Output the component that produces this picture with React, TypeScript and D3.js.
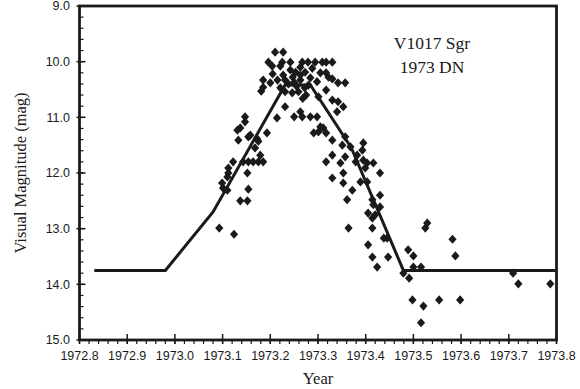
import React, { useRef, useEffect } from 'react'
import * as d3 from 'd3'

// visual estimates, [year, magnitude]
const observations: [number, number][] = [
  [1973.093, 12.99], [1973.124, 13.10], [1973.137, 12.50], [1973.152, 12.50], [1973.154, 12.29],
  [1973.101, 12.27], [1973.110, 12.31], [1973.099, 12.18], [1973.112, 12.00], [1973.112, 11.91],
  [1973.110, 12.07], [1973.122, 11.80], [1973.143, 11.80], [1973.154, 11.80], [1973.164, 11.80],
  [1973.175, 11.80], [1973.185, 11.80], [1973.152, 12.00], [1973.179, 11.68], [1973.168, 11.55],
  [1973.133, 11.41], [1973.131, 11.23], [1973.147, 10.99], [1973.147, 11.08], [1973.158, 11.32],
  [1973.175, 11.43], [1973.193, 11.28], [1973.137, 11.19], [1973.154, 11.35], [1973.172, 11.38],
  [1973.185, 10.33], [1973.200, 10.38], [1973.185, 10.46], [1973.181, 10.53], [1973.196, 10.01],
  [1973.204, 10.08], [1973.210, 9.83], [1973.227, 9.83], [1973.225, 10.01], [1973.242, 10.01],
  [1973.267, 10.01], [1973.279, 10.01], [1973.294, 10.01], [1973.309, 10.01], [1973.317, 10.01],
  [1973.330, 10.01], [1973.221, 10.08], [1973.263, 10.10], [1973.253, 10.19], [1973.273, 10.19],
  [1973.247, 10.28], [1973.263, 10.33], [1973.284, 10.29], [1973.238, 10.40], [1973.255, 10.44],
  [1973.272, 10.47], [1973.221, 10.47], [1973.231, 10.33], [1973.259, 10.54], [1973.305, 10.20],
  [1973.317, 10.20], [1973.322, 10.28], [1973.330, 10.31], [1973.342, 10.38], [1973.357, 10.38],
  [1973.317, 10.51], [1973.330, 10.69], [1973.342, 10.72], [1973.353, 10.81], [1973.340, 10.90],
  [1973.231, 10.81], [1973.214, 11.01], [1973.250, 10.99], [1973.263, 10.90], [1973.267, 10.99],
  [1973.284, 10.99], [1973.298, 10.99], [1973.291, 11.28], [1973.301, 11.26], [1973.305, 11.17],
  [1973.311, 11.19], [1973.317, 11.28], [1973.330, 11.41], [1973.357, 11.35], [1973.351, 11.50],
  [1973.368, 11.53], [1973.395, 11.46], [1973.393, 11.59], [1973.330, 11.68], [1973.357, 11.71],
  [1973.347, 11.82], [1973.382, 11.68], [1973.395, 11.77], [1973.242, 10.15], [1973.227, 10.24],
  [1973.263, 10.24], [1973.250, 10.37], [1973.280, 10.42], [1973.215, 10.33], [1973.231, 10.54],
  [1973.275, 10.60], [1973.301, 10.63], [1973.379, 11.80], [1973.403, 11.82], [1973.416, 11.82],
  [1973.399, 11.91], [1973.430, 12.00], [1973.353, 12.00], [1973.389, 12.16], [1973.403, 12.16],
  [1973.353, 12.18], [1973.372, 12.31], [1973.430, 12.40], [1973.361, 12.48], [1973.414, 12.48],
  [1973.416, 12.57], [1973.405, 12.72], [1973.420, 12.75], [1973.414, 12.81], [1973.364, 12.99],
  [1973.414, 12.99], [1973.438, 13.17], [1973.405, 13.29], [1973.414, 13.51], [1973.447, 13.51],
  [1973.424, 13.69], [1973.430, 12.61], [1973.445, 13.17], [1973.489, 13.38], [1973.500, 13.49],
  [1973.500, 13.69], [1973.516, 13.69], [1973.479, 13.80], [1973.491, 13.89], [1973.525, 12.99],
  [1973.529, 12.90], [1973.582, 13.19], [1973.588, 13.49], [1973.498, 14.28], [1973.521, 14.39],
  [1973.554, 14.28], [1973.598, 14.28], [1973.516, 14.69], [1973.709, 13.80], [1973.720, 13.99],
  [1973.787, 13.99], [1973.330, 12.09], [1973.317, 11.80], [1973.205, 10.22], [1973.288, 10.12],
  [1973.298, 10.36], [1973.246, 10.56], [1973.268, 10.66],
]

// broken-line outburst template
const fitYear = [1972.831, 1972.98, 1973.08, 1973.231, 1973.284, 1973.37, 1973.479, 1973.8]
const fitMag = [13.75, 13.75, 12.7, 10.42, 10.42, 11.55, 13.75, 13.75]

const xTicks = [1972.8, 1972.9, 1973.0, 1973.1, 1973.2, 1973.3, 1973.4, 1973.5, 1973.6, 1973.7, 1973.8]
const yTicks = [9, 10, 11, 12, 13, 14, 15]
const starLabel = ['V1017 Sgr', '1973 DN']

export default function App() {
  const ref = useRef<SVGSVGElement>(null)

  useEffect(() => {
    const svg = d3.select(ref.current)
    svg.selectAll('*').remove()

    const x = d3.scaleLinear().domain([1972.8, 1973.8]).range([79.5, 556.5])
    const y = d3.scaleLinear().domain([9, 15]).range([6, 340])
    const ink = '#1a1a1a'
    const sans = '"Liberation Sans", Arial, sans-serif'
    const serif = '"Liberation Serif", "Times New Roman", serif'

    // minor ticks
    const xMinor = d3.range(0, 51).map(i => 1972.8 + i * 0.02)
    svg.append('g').selectAll('line').data(xMinor).enter().append('line')
      .attr('x1', d => x(d)).attr('x2', d => x(d))
      .attr('y1', y(15)).attr('y2', y(15) + 4)
      .attr('stroke', ink).attr('stroke-width', 1.2)
    const yMinor = d3.range(0, 31).map(i => 9 + i * 0.2)
    svg.append('g').selectAll('line').data(yMinor).enter().append('line')
      .attr('x1', x(1972.8)).attr('x2', x(1972.8) + 4)
      .attr('y1', d => y(d)).attr('y2', d => y(d))
      .attr('stroke', ink).attr('stroke-width', 1.2)

    // major ticks
    svg.append('g').selectAll('line').data(xTicks).enter().append('line')
      .attr('x1', d => x(d)).attr('x2', d => x(d))
      .attr('y1', y(15) - 6).attr('y2', y(15) + 4)
      .attr('stroke', ink).attr('stroke-width', 1.5)
    svg.append('g').selectAll('line').data(yTicks).enter().append('line')
      .attr('x1', x(1972.8) - 3).attr('x2', x(1972.8) + 6)
      .attr('y1', d => y(d)).attr('y2', d => y(d))
      .attr('stroke', ink).attr('stroke-width', 1.5)

    // frame
    svg.append('rect')
      .attr('x', x(1972.8)).attr('y', y(9))
      .attr('width', x(1973.8) - x(1972.8)).attr('height', y(15) - y(9))
      .attr('fill', 'none').attr('stroke', ink).attr('stroke-width', 2.8)

    // tick labels
    svg.append('g').selectAll('text').data(xTicks).enter().append('text')
      .attr('x', d => x(d)).attr('y', 360)
      .attr('text-anchor', 'middle')
      .attr('font-family', sans).attr('font-size', 12.5).attr('fill', ink)
      .text(d => d.toFixed(1))
    svg.append('g').selectAll('text').data(yTicks).enter().append('text')
      .attr('x', 70).attr('y', d => y(d)).attr('dy', '0.35em')
      .attr('text-anchor', 'end')
      .attr('font-family', sans).attr('font-size', 12.5).attr('fill', ink)
      .text(d => d.toFixed(1))

    // axis titles
    svg.append('text')
      .attr('x', (x(1972.8) + x(1973.8)) / 2).attr('y', 384)
      .attr('text-anchor', 'middle')
      .attr('font-family', serif).attr('font-size', 16.5).attr('fill', ink)
      .text('Year')
    svg.append('text')
      .attr('transform', `translate(26,${(y(9) + y(15)) / 2}) rotate(-90)`)
      .attr('text-anchor', 'middle')
      .attr('font-family', serif).attr('font-size', 16.5).attr('fill', ink)
      .text('Visual Magnitude (mag)')

    // star name
    svg.append('g').selectAll('text').data(starLabel).enter().append('text')
      .attr('x', 432).attr('y', (d, i) => 49 + i * 24)
      .attr('text-anchor', 'middle')
      .attr('font-family', serif).attr('font-size', 17.5).attr('fill', ink)
      .text(d => d)

    // template line
    const fit = fitYear.map((t, i) => [t, fitMag[i]] as [number, number])
    svg.append('path')
      .datum(fit)
      .attr('fill', 'none')
      .attr('stroke', ink)
      .attr('stroke-width', 3)
      .attr('stroke-linejoin', 'miter')
      .attr('d', d3.line<[number, number]>().x(d => x(d[0])).y(d => y(d[1])))

    // observations
    svg.append('g').selectAll('path').data(observations).enter().append('path')
      .attr('transform', d => `translate(${x(d[0])},${y(d[1])})`)
      .attr('d', 'M0,-4.6L4.1,0L0,4.6L-4.1,0Z')
      .attr('fill', ink)
  }, [])

  return (
    <svg
      ref={ref}
      width={580}
      height={389}
      style={{ position: 'absolute', left: 0, top: 0, background: '#fff' }}
    />
  )
}
